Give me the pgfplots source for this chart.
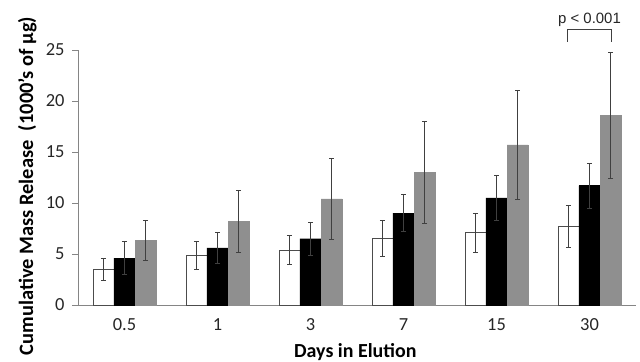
\documentclass[border=0pt]{standalone}
\usepackage{fontspec}
\setmainfont{Carlito}
\newfontfamily\arialf{Liberation Sans}
\usepackage{pgfplots}
\pgfplotsset{compat=1.18}
\definecolor{barg}{HTML}{8F8F8F}
\definecolor{axg}{HTML}{858585}
\begin{document}
\begin{tikzpicture}
\useasboundingbox (-78bp,-57bp) rectangle (562bp,305bp);
\begin{axis}[
  at={(0,0)}, anchor=south west,
  scale only axis, width=558bp, height=255bp,
  xmin=0, xmax=6, ymin=0, ymax=25,
  axis x line=bottom, axis y line=left,
  axis line style={draw=axg, line width=0.8pt, -},
  ybar=0pt, bar width=0.226,
  xtick={0.5,1.5,2.5,3.5,4.5,5.5},
  xticklabels={0.5,1,3,7,15,30},
  major x tick style={draw=none},
  extra x ticks={0,1,2,3,4,5,6},
  extra x tick labels={},
  extra x tick style={tick style={draw=axg, line width=0.8pt}, major tick length=5bp, tick align=outside},
  ytick={0,5,10,15,20,25},
  major y tick style={draw=axg, line width=0.8pt},
  tick align=outside, major tick length=6bp,
  /pgf/number format/assume math mode=true,
  tick label style={font=\fontsize{18.5}{21}\selectfont, text=black!85},
  xticklabel style={anchor=base, yshift=-19.5bp},
  yticklabel style={anchor=east, xshift=-4bp},
  xlabel={\textbf{Days in Elution}},
  ylabel={\textbf{Cumulative Mass Release\ \ (1000's of µg)}},
  xlabel style={font=\fontsize{20}{24}\selectfont, at={(axis description cs:0.497,-0.2067)}, anchor=base},
  ylabel style={font=\fontsize{20.5}{24}\selectfont, at={(axis description cs:-0.0806,0.467)}, anchor=base, rotate=0},
  clip=false,
  error bars/y dir=both, error bars/y explicit,
  error bars/error bar style={line width=0.9pt, black!75},
  error bars/error mark options={rotate=90, mark size=2.5bp, line width=0.9pt, black!75},
]
\addplot[draw=black!70, fill=white, line width=0.6pt] coordinates {
 (0.5,3.5) +- (0,1.1)
 (1.5,4.85) +- (0,1.4)
 (2.5,5.4) +- (0,1.45)
 (3.5,6.5) +- (0,1.75)
 (4.5,7.1) +- (0,1.9)
 (5.5,7.7) +- (0,2.1)
};
\addplot[draw=black, fill=black] coordinates {
 (0.5,4.6) +- (0,1.6)
 (1.5,5.6) +- (0,1.55)
 (2.5,6.5) +- (0,1.6)
 (3.5,9.0) +- (0,1.8)
 (4.5,10.5) +- (0,2.2)
 (5.5,11.7) +- (0,2.2)
};
\addplot[draw=barg, fill=barg] coordinates {
 (0.5,6.35) +- (0,1.95)
 (1.5,8.2) +- (0,3.05)
 (2.5,10.4) +- (0,3.95)
 (3.5,13.0) +- (0,5.0)
 (4.5,15.7) +- (0,5.35)
 (5.5,18.6) +- (0,6.2)
};
\draw[black!75, line width=0.8pt] (axis cs:5.265,25.8) -- (axis cs:5.265,27.05) -- (axis cs:5.74,27.05) -- (axis cs:5.74,25.8);
\node[font=\arialf\fontsize{15}{17}\selectfont, anchor=base, text=black!85] at (axis cs:5.5,27.6) {p < 0.001};
\end{axis}
\end{tikzpicture}
\end{document}
